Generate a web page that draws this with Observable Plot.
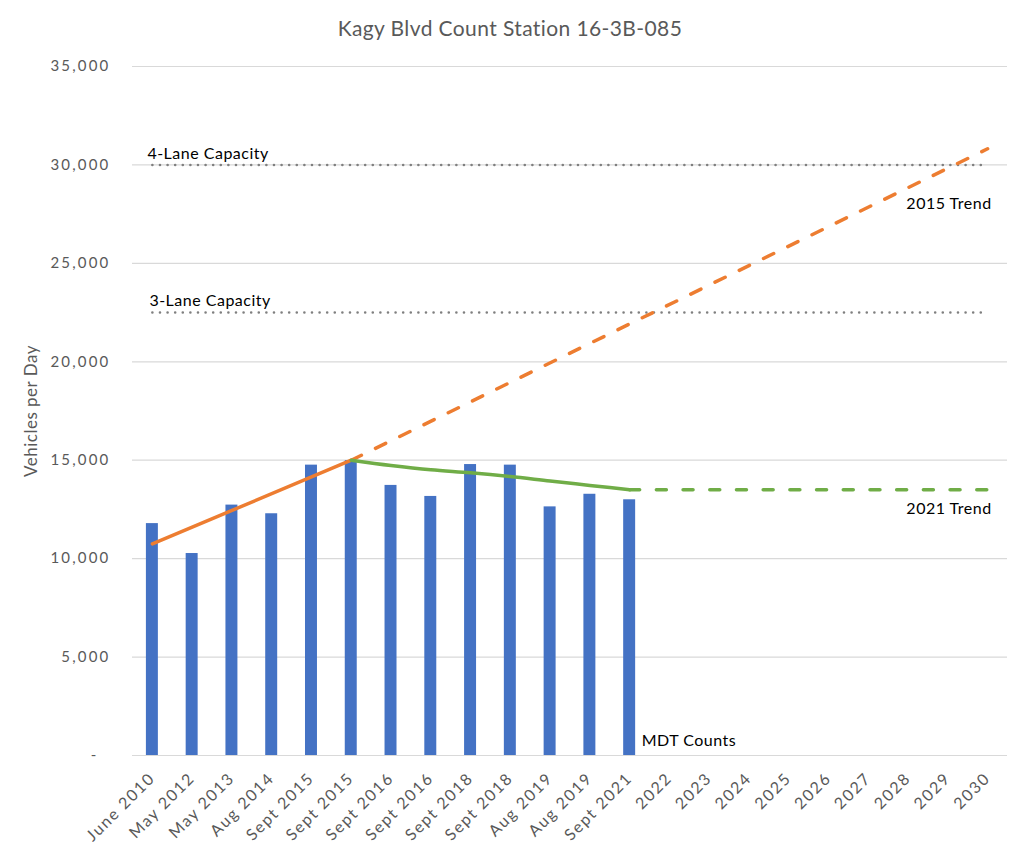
<!DOCTYPE html>
<html>
<head>
<meta charset="utf-8">
<script src="https://cdn.jsdelivr.net/npm/d3@7"></script>
<script src="https://cdn.jsdelivr.net/npm/@observablehq/plot@0.6"></script>
<style>
  body { margin: 0; background: #fff; }
  #wrap { position: relative; width: 1024px; height: 854px; font-family: Lato, "Open Sans", sans-serif; background: #fff; }
  #title { position: absolute; top: 17px; left: 0; width: 1020px; text-align: center; font-size: 21px; letter-spacing: 0.4px; line-height: 1; color: #595959; }
  #chart { position: absolute; top: 50px; left: 0; }
  g[aria-label="y-axis tick label"] text { letter-spacing: 2.2px; }
  g[aria-label="x-axis tick label"] text { letter-spacing: 1.7px; }
  g[aria-label="text"] text { letter-spacing: 0.5px; }
</style>
</head>
<body>
<div id="wrap">
  <div id="title">Kagy Blvd Count Station 16-3B-085</div>
  <div id="chart"></div>
</div>
<script>
// ---- data ----
const xLabels = ["June 2010", "May 2012", "May 2013", "Aug 2014", "Sept 2015", "Sept 2015",
  "Sept 2016", "Sept 2016", "Sept 2018", "Sept 2018", "Aug 2019", "Aug 2019", "Sept 2021",
  "2022", "2023", "2024", "2025", "2026", "2027", "2028", "2029", "2030"];
const counts = [11780, 10260, 12720, 12280, 14750, 14980, 13720, 13160, 14780, 14750, 12630, 13270, 12990];
const trend2015Solid = [[0, 10750], [5, 15000]];
const trend2015Dashed = [[5, 15000], [21, 30820]];
const trend2021Solid = [[5, 15000], [6, 14730], [7, 14510], [8, 14360], [9, 14170], [10, 13940], [11, 13720], [12, 13500]];
const trend2021Dashed = [[12, 13500], [21, 13500]];
const capacity4 = 30000;
const capacity3 = 22500;
const capacitySpan = [0, 21];
const yTicks = [0, 5000, 10000, 15000, 20000, 25000, 30000, 35000];
const yLabel = "Vehicles per Day";

// ---- derived tables ----
const idx = d3.range(xLabels.length);
const bars = counts.map((v, i) => ({i, v}));
const pts = arr => arr.map(([i, v]) => ({i, v}));
const capLine = v => capacitySpan.map(i => ({i, v}));

const fmtY = d => d === 0 ? "-\u00a0\u00a0" : d3.format(",")(d);
const inset = 13.9;

const chart = Plot.plot({
  width: 1024,
  height: 804,
  marginTop: 16,
  marginBottom: 99,
  marginLeft: 132,
  marginRight: 17,
  style: {fontFamily: "Lato, 'Open Sans', sans-serif", fontSize: "14px", background: "white", color: "#595959"},
  x: {type: "band", domain: idx, padding: 0, round: false},
  y: {domain: [0, 35000]},
  marks: [
    Plot.gridY(yTicks, {stroke: "#d9d9d9", strokeOpacity: 1, strokeWidth: 1.2}),
    Plot.axisY({ticks: yTicks, tickSize: 0, tickPadding: 22, tickFormat: fmtY, fill: "#595959", fontSize: 15, label: null}),
    Plot.axisX({tickSize: 0, tickPadding: 20, tickRotate: -45, tickFormat: i => xLabels[i], fill: "#595959", fontSize: 16, label: null}),
    Plot.barY(bars, {x: "i", y: "v", fill: "#4472C4", insetLeft: inset, insetRight: inset}),
    Plot.line(capLine(capacity4), {x: "i", y: "v", stroke: "#7f7f7f", strokeWidth: 2.6, strokeDasharray: "0,7.6", strokeLinecap: "round"}),
    Plot.line(capLine(capacity3), {x: "i", y: "v", stroke: "#7f7f7f", strokeWidth: 2.6, strokeDasharray: "0,7.6", strokeLinecap: "round"}),
    Plot.line(pts(trend2015Solid), {x: "i", y: "v", stroke: "#ED7D31", strokeWidth: 3.5, strokeLinecap: "round"}),
    Plot.line(pts(trend2015Dashed), {x: "i", y: "v", stroke: "#ED7D31", strokeWidth: 3.5, strokeLinecap: "round", strokeDasharray: "11.3,15.7"}),
    Plot.line(pts(trend2021Solid), {x: "i", y: "v", stroke: "#70AD47", strokeWidth: 3.5, strokeLinecap: "round", curve: "monotone-x"}),
    Plot.line(pts(trend2021Dashed), {x: "i", y: "v", stroke: "#70AD47", strokeWidth: 3.5, strokeLinecap: "round", strokeDasharray: "10,16.7"}),
    Plot.text(["4-Lane Capacity"], {x: [capacitySpan[0]], y: [capacity4], textAnchor: "start", dx: -5, dy: -11, fill: "#000", fontSize: 16}),
    Plot.text(["3-Lane Capacity"], {x: [capacitySpan[0]], y: [capacity3], textAnchor: "start", dx: -3, dy: -12, fill: "#000", fontSize: 16}),
    Plot.text(["2015 Trend"], {x: [trend2015Dashed[1][0]], y: [trend2015Dashed[1][1]], textAnchor: "end", dx: 4, dy: 55, fill: "#000", fontSize: 16}),
    Plot.text(["2021 Trend"], {x: [trend2021Dashed[1][0]], y: [trend2021Dashed[1][1]], textAnchor: "end", dx: 4, dy: 19, fill: "#000", fontSize: 16}),
    Plot.text(["MDT Counts"], {x: [counts.length - 1], y: [0], textAnchor: "start", dx: 12, dy: -15, fill: "#000", fontSize: 16}),
    Plot.text([yLabel], {frameAnchor: "left", textAnchor: "middle", dx: -101, rotate: -90, fill: "#595959", fontSize: 17})
  ]
});
document.getElementById("chart").appendChild(chart);
</script>
</body>
</html>
